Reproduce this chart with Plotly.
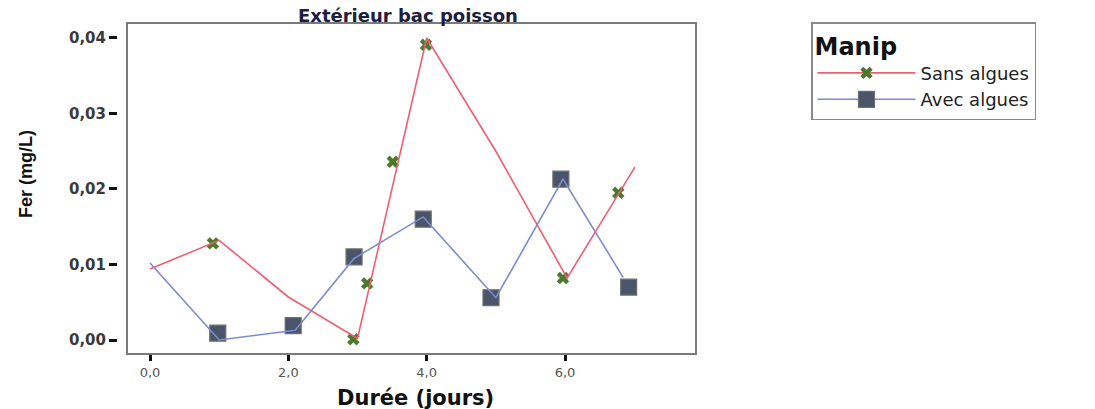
import plotly.graph_objects as go

# Durée (jours) / Fer (mg/L) — Extérieur bac poisson
# Courbes d'ajustement
sans_line_x = [0, 1, 2, 3, 4, 5, 6.03, 7.01]
sans_line_y = [0.0094, 0.0132, 0.0057, 0.0002, 0.0400, 0.0250, 0.0082, 0.0229]
avec_line_x = [0, 1, 2.1, 2.95, 3.95, 5.0, 5.97, 6.84]
avec_line_y = [0.0102, 0.0000, 0.0013, 0.0108, 0.0163, 0.0056, 0.0213, 0.0083]

# Mesures
sans_x = [0.91, 2.94, 3.14, 3.51, 3.99, 5.97, 6.77]
sans_y = [0.0128, 0.0001, 0.0075, 0.0236, 0.0391, 0.0082, 0.0195]
avec_x = [0.98, 2.07, 2.95, 3.95, 4.93, 5.94, 6.92]
avec_y = [0.0009, 0.0019, 0.0110, 0.0160, 0.0056, 0.0213, 0.0070]

x_ticks = [0, 2, 4, 6]
y_ticks = [0.0, 0.01, 0.02, 0.03, 0.04]

RED = "#ef5f72"
BLUE = "#7a8cd2"
GREEN = "#4c7a2c"
SLATE = "#4a5569"
FONT = "DejaVu Sans"

W, H = 1095, 409
x_range = [-0.318, 7.879]
y_range = [-0.00172, 0.04185]

fig = go.Figure()

fig.add_trace(go.Scatter(x=sans_line_x, y=sans_line_y, mode="lines",
                         line=dict(color=RED, width=1.6), showlegend=False,
                         hoverinfo="skip", yaxis="y2"))
fig.add_trace(go.Scatter(x=avec_line_x, y=avec_line_y, mode="lines",
                         line=dict(color=BLUE, width=1.6), showlegend=False,
                         hoverinfo="skip", yaxis="y2"))
fig.add_trace(go.Scatter(x=avec_x, y=avec_y, mode="markers",
                         marker=dict(symbol="square", size=16, color=SLATE,
                                     line=dict(color="#6f6f6f", width=1.2)),
                         showlegend=False))
fig.add_trace(go.Scatter(x=sans_x, y=sans_y, mode="markers",
                         marker=dict(symbol="x", size=11, color=GREEN,
                                     line=dict(width=0)),
                         showlegend=False))

# Legend entries
fig.add_trace(go.Scatter(x=[None], y=[None], mode="lines+markers",
                         name="Sans algues",
                         line=dict(color=RED, width=1.6),
                         marker=dict(symbol="x", size=11, color=GREEN,
                                     line=dict(width=0))))
fig.add_trace(go.Scatter(x=[None], y=[None], mode="lines+markers",
                         name="Avec algues",
                         line=dict(color=BLUE, width=1.6),
                         marker=dict(symbol="square", size=16, color=SLATE,
                                     line=dict(color="#6f6f6f", width=1.2))))

x_dom = [128 / W, 695 / W]
y_dom = [1 - 353 / H, 1 - 24 / H]

fig.update_layout(
    width=W, height=H,
    margin=dict(l=0, r=0, t=0, b=0),
    paper_bgcolor="white", plot_bgcolor="white",
    separators=", ",
    font=dict(family=FONT, color="#222222"),
    xaxis=dict(domain=x_dom, range=x_range, showgrid=False, zeroline=False,
               showline=True, linecolor="#7a7a7a", linewidth=2, mirror=True,
               tickmode="array", tickvals=x_ticks, tickformat=".1f",
               ticks="outside", ticklen=6, tickwidth=3, tickcolor="#111111",
               tickfont=dict(family=FONT, size=13, color="#555555")),
    yaxis=dict(domain=y_dom, range=y_range, showgrid=False, zeroline=False,
               showline=True, linecolor="#7a7a7a", linewidth=2, mirror=True,
               showticklabels=False, ticks=""),
    yaxis2=dict(overlaying="y", anchor="free", position=117 / W,
                range=y_range, showgrid=False, zeroline=False, showline=False,
                tickmode="array", tickvals=y_ticks, tickformat=".2f",
                ticks="outside", ticklen=8, tickwidth=3, tickcolor="#111111",
                tickfont=dict(family=FONT, size=15, color="#3a3a3a",
                              weight="bold")),
    legend=dict(x=811 / W, y=1 - 22 / H, xanchor="left", yanchor="top",
                bordercolor="#8a8a8a", borderwidth=1.5, bgcolor="white",
                itemwidth=98, tracegroupgap=0,
                title=dict(text="<b>Manip</b>",
                           font=dict(family=FONT, size=24, color="#111111")),
                font=dict(family=FONT, size=18, color="#222222")),
    annotations=[
        dict(text="<b>Extérieur bac poisson</b>", xref="paper", yref="paper",
             x=408 / W, y=1 - 15 / H, xanchor="center", yanchor="middle",
             showarrow=False, font=dict(family=FONT, size=18, color="#1c2040")),
        dict(text="<b>Durée (jours)</b>", xref="paper", yref="paper",
             x=415 / W, y=1 - 398 / H, xanchor="center", yanchor="middle",
             showarrow=False, font=dict(family=FONT, size=21, color="#111111")),
        dict(text="<b>Fer (mg/L)</b>", xref="paper", yref="paper",
             x=26 / W, y=1 - 174 / H, xanchor="center", yanchor="middle",
             textangle=-90, showarrow=False,
             font=dict(family="Liberation Sans", size=18, color="#111111")),
    ],
)

fig.write_html("out.html")
